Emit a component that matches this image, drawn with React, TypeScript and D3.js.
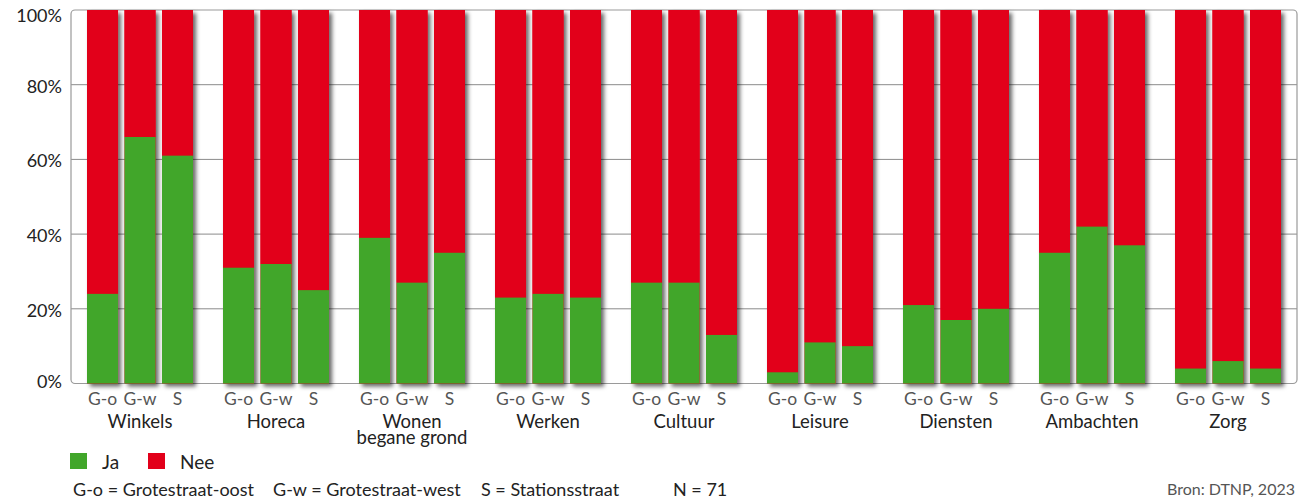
import React from 'react';
import * as d3 from 'd3';

const categories = ['Winkels', 'Horeca', 'Wonen\nbegane grond', 'Werken', 'Cultuur', 'Leisure', 'Diensten', 'Ambachten', 'Zorg'];
const streets = ['G-o', 'G-w', 'S'];
// percentage "Ja" per category, per street (G-o, G-w, S)
const jaGo = [24, 31, 39, 23, 27, 3, 21, 35, 4];
const jaGw = [66, 32, 27, 24, 27, 11, 17, 42, 6];
const jaS = [61, 25, 35, 23, 13, 10, 20, 37, 4];
const yTicks = [0, 20, 40, 60, 80, 100];

const GREEN = '#41a62a';
const RED = '#e2001a';
const FONT = 'Lato, "Noto Sans", sans-serif';

const W = 1303;
const H = 499;
const plot = { left: 71, right: 1297, top: 10, bottom: 383.5 };

export default function App() {
  const x0 = d3
    .scaleBand<string>()
    .domain(categories)
    .range([plot.left, plot.right])
    .paddingInner(0.2206)
    .paddingOuter(0.1177);
  const x1 = d3
    .scaleBand<string>()
    .domain(streets)
    .range([0, x0.bandwidth()])
    .paddingInner(0.173)
    .paddingOuter(0);
  const y = d3.scaleLinear().domain([0, 100]).range([plot.bottom, plot.top]);

  const series = [jaGo, jaGw, jaS];
  // edge labels are nudged inward, like the original
  const tickDy = (t: number) => (t === 100 ? 12 : t === 0 ? 4 : 8);

  return (
    <svg width={W} height={H} style={{ position: 'absolute', left: 0, top: 0 }} fontFamily={FONT}>
      <defs>
        <filter id="shadow" x="-20%" y="-5%" width="160%" height="120%">
          <feDropShadow dx="3" dy="3" stdDeviation="2" floodColor="#000" floodOpacity="0.6" />
        </filter>
      </defs>

      {/* grid */}
      {yTicks.slice(1, -1).map(t => (
        <line key={t} x1={plot.left} x2={plot.right} y1={y(t)} y2={y(t)} stroke="#8a8a8a" strokeWidth={1} />
      ))}
      <rect
        x={plot.left}
        y={plot.top}
        width={plot.right - plot.left}
        height={plot.bottom - plot.top}
        rx={4}
        fill="none"
        stroke="#9a9a9a"
        strokeWidth={1.2}
      />

      {/* y tick labels */}
      {yTicks.map(t => (
        <text key={t} x={62} y={y(t) + tickDy(t)} textAnchor="end" fontSize={18} fill="#222">
          {t}%
        </text>
      ))}

      {/* bars */}
      {categories.map((c, ci) => (
        <g key={c} transform={`translate(${x0(c)},0)`}>
          {streets.map((s, si) => {
            const v = series[si][ci];
            const bx = x1(s)!;
            const bw = x1.bandwidth();
            return (
              <g key={s}>
                <g filter="url(#shadow)">
                  <rect x={bx} y={y(100)} width={bw} height={y(0) - y(100)} fill={RED} />
                </g>
                <rect x={bx} y={y(100)} width={bw} height={y(v) - y(100)} fill={RED} />
                <rect x={bx} y={y(v)} width={bw} height={y(0) - y(v)} fill={GREEN} />
                <text x={bx + bw / 2} y={405} textAnchor="middle" fontSize={17.5} fill="#555">
                  {s}
                </text>
              </g>
            );
          })}
          {c.split('\n').map((line, li) => (
            <text
              key={li}
              x={x0.bandwidth() / 2}
              y={427.5 + li * 16}
              textAnchor="middle"
              fontSize={18.5}
              fill="#222"
            >
              {line}
            </text>
          ))}
        </g>
      ))}

      {/* legend */}
      <rect x={70} y={453} width={17} height={16} fill={GREEN} />
      <text x={102} y={469} fontSize={19} fill="#222">Ja</text>
      <rect x={148} y={453} width={17} height={16} fill={RED} />
      <text x={180} y={469} fontSize={19} fill="#222">Nee</text>

      {/* footer */}
      <text x={73} y={496} fontSize={18} fill="#222">G-o = Grotestraat-oost</text>
      <text x={273} y={496} fontSize={18} fill="#222">G-w = Grotestraat-west</text>
      <text x={481} y={496} fontSize={18} fill="#222">S = Stationsstraat</text>
      <text x={673} y={496} fontSize={18} fill="#222">N = 71</text>
      <text x={1295} y={495} textAnchor="end" fontSize={16} fill="#555">Bron: DTNP, 2023</text>
    </svg>
  );
}
